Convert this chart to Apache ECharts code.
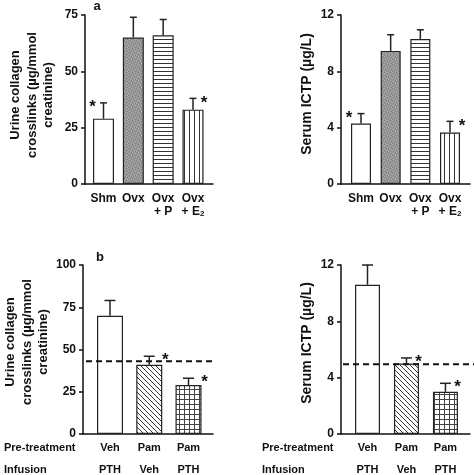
<!DOCTYPE html>
<html><head><meta charset="utf-8">
<script src="https://cdn.jsdelivr.net/npm/echarts@6/dist/echarts.min.js"></script>
<style>html,body{margin:0;padding:0;background:#fff}#c{width:474px;height:475px}</style>
</head><body><div id="c"></div>
<script>
// ---- data ----
const catsA = ['Shm', 'Ovx', 'Ovx\n+ P', 'Ovx\n+ E{sub|2}'];
const urineA = [29, 65, 66, 33];
const urineAErr = [36, 74, 73, 38];
const ictpA = [4.3, 9.45, 10.3, 3.65];
const ictpAErr = [5.0, 10.6, 10.95, 4.45];
const starsA = [-1, 0, 0, 1];
const starsA2 = [-1, 0, 0, 1];
const catsB = ['Veh\nPTH', 'Pam\nVeh', 'Pam\nPTH'];
const urineB = [70, 41, 29];
const urineBErr = [79, 46, 33];
const urineBRef = 43;
const ictpB = [10.6, 5.0, 3.0];
const ictpBErr = [12.0, 5.4, 3.6];
const ictpBRef = 4.95;
const starsB = [0, 1, 1];
const ticksUrineA = [0, 25, 50, 75];
const ticksIctp = [0, 4, 8, 12];
const ticksUrineB = [0, 25, 50, 75, 100];
const rowLabels = ['Pre-treatment', 'Infusion'];

// ---- patterns ----
function mk(w, h, draw) { const c = document.createElement('canvas'); c.width = w; c.height = h; const x = c.getContext('2d'); draw(x); return c; }
const pStipple = mk(6, 6, x => {
  x.fillStyle = '#979797'; x.fillRect(0, 0, 6, 6);
  x.fillStyle = '#7c7c7c';
  [[0,0],[3,1],[5,2],[1,3],[4,4],[2,5]].forEach(p => x.fillRect(p[0], p[1], 1, 1));
  x.fillStyle = '#b0b0b0';
  [[2,0],[0,2],[4,1],[3,3],[1,5],[5,4]].forEach(p => x.fillRect(p[0], p[1], 1, 1));
});
const pH = mk(4, 4, x => { x.fillStyle = '#fff'; x.fillRect(0, 0, 4, 4); x.fillStyle = '#333'; x.fillRect(0, 3, 4, 1); });
const pV = mk(5, 5, x => { x.fillStyle = '#fff'; x.fillRect(0, 0, 5, 5); x.fillStyle = '#333'; x.fillRect(4, 0, 1, 5); });
const pD = mk(5, 5, x => { x.fillStyle = '#fff'; x.fillRect(0, 0, 5, 5); x.fillStyle = '#333'; for (let i = 0; i < 5; i++) x.fillRect(i, i, 1, 1); });
const pG = mk(5, 5, x => { x.fillStyle = '#fff'; x.fillRect(0, 0, 5, 5); x.fillStyle = '#444'; x.fillRect(0, 4, 5, 1); x.fillRect(4, 0, 1, 5); });
const pat = c => ({ image: c, repeat: 'repeat' });
const fillsA = ['#fff', pat(pStipple), pat(pH), pat(pV)];
const fillsB = ['#fff', pat(pD), pat(pG)];

const FONT = 'Liberation Sans, Arial, sans-serif';
const grids = [
  { left: 85, top: 15, width: 128, height: 169, outerBoundsMode: 'none', containLabel: false },
  { left: 341, top: 15, width: 129, height: 169, outerBoundsMode: 'none', containLabel: false },
  { left: 83, top: 265, width: 130, height: 169, outerBoundsMode: 'none', containLabel: false },
  { left: 341, top: 265, width: 129, height: 169, outerBoundsMode: 'none', containLabel: false }
];
const xRanges = [[-0.62, 3.67], [-0.674, 3.674], [-0.688, 2.624], [-0.68, 2.63]];
const yRanges = [[0, 75, 25], [0, 12, 4], [0, 100, 25], [0, 12, 4]];
const catLists = [catsA, catsA, catsB, catsB];

const xAxes = grids.map((g, i) => ({
  type: 'value', gridIndex: i, min: xRanges[i][0], max: xRanges[i][1],
  axisLine: { show: true, onZero: false, lineStyle: { color: '#111', width: 1.5 } },
  axisTick: { show: false }, splitLine: { show: false },
  axisLabel: {
    customValues: catLists[i].map((c, k) => k),
    formatter: v => catLists[i][Math.round(v)],
    fontFamily: FONT, fontWeight: 'bold', fontSize: i < 2 ? 12 : 11, color: '#111',
    margin: i < 2 ? 8 : 3, lineHeight: i < 2 ? 13 : 22,
    rich: { sub: { fontSize: 8, fontWeight: 'bold', verticalAlign: 'bottom', padding: [6, 0, 0, 0], fontFamily: FONT } }
  }
}));
const yAxes = grids.map((g, i) => ({
  type: 'value', gridIndex: i, min: yRanges[i][0], max: yRanges[i][1], interval: yRanges[i][2],
  axisLine: { show: true, onZero: false, lineStyle: { color: '#111', width: 1.5 } },
  axisTick: { show: true, length: 4, lineStyle: { color: '#111', width: 1.5 } },
  splitLine: { show: false },
  axisLabel: { fontFamily: FONT, fontWeight: 'bold', fontSize: 12, color: '#111', margin: 7 }
}));

function barSeries(idx, vals, fills, bw) {
  return {
    type: 'bar', xAxisIndex: idx, yAxisIndex: idx, barWidth: bw, z: 2,
    data: vals.map((v, k) => ({ value: [k, v], itemStyle: { color: fills[k] } })),
    itemStyle: { borderColor: '#222', borderWidth: 1.2 },
    emphasis: { disabled: true }, silent: true
  };
}
function errSeries(idx, vals, errs, stars, cap, starOff) {
  return {
    type: 'custom', xAxisIndex: idx, yAxisIndex: idx, z: 3, silent: true,
    data: vals.map((v, k) => [k, errs[k], v, stars[k]]),
    renderItem: (params, api) => {
      const k = api.value(0), top = api.value(1), base = api.value(2), s = api.value(3);
      const p0 = api.coord([k, base]), p1 = api.coord([k, top]);
      const ch = [
        { type: 'line', shape: { x1: p0[0], y1: p0[1], x2: p1[0], y2: p1[1] }, style: { stroke: '#222', lineWidth: 1.5 } },
        { type: 'line', shape: { x1: p1[0] - cap / 2, y1: p1[1], x2: p1[0] + cap / 2, y2: p1[1] }, style: { stroke: '#222', lineWidth: 1.5 } }
      ];
      if (s !== 0) {
        ch.push({ type: 'text', x: p1[0] + s * starOff, y: p1[1] - 4,
          style: { text: '*', font: 'bold 17px ' + FONT, fill: '#111', align: 'center', verticalAlign: 'top' } });
      }
      return { type: 'group', children: ch };
    }
  };
}
function refSeries(idx, ref, ext0, ext1) {
  return {
    type: 'custom', xAxisIndex: idx, yAxisIndex: idx, z: 4, silent: true,
    data: [[0, ref]],
    renderItem: (params, api) => {
      const cs = params.coordSys;
      const y = api.coord([0, api.value(1)])[1];
      return { type: 'line', shape: { x1: cs.x + ext0, y1: y, x2: cs.x + cs.width + ext1, y2: y },
        style: { stroke: '#111', lineWidth: 2, lineDash: [6, 4] } };
    }
  };
}

const titleStyle = { font: 'bold 13px ' + FONT, fill: '#111', align: 'center', verticalAlign: 'middle', lineHeight: 16.5 };
const titleStyle2 = { font: 'bold 14px ' + FONT, fill: '#111', align: 'center', verticalAlign: 'middle' };
const graphics = [
  { type: 'text', x: 32, y: 95, rotation: Math.PI / 2, style: Object.assign({ text: 'Urine collagen\ncrosslinks (\u00b5g/mmol\ncreatinine)' }, titleStyle) },
  { type: 'text', x: 307, y: 94, rotation: Math.PI / 2, style: Object.assign({ text: 'Serum ICTP (\u00b5g/L)' }, titleStyle2) },
  { type: 'text', x: 27, y: 342, rotation: Math.PI / 2, style: Object.assign({ text: 'Urine collagen\ncrosslinks (\u00b5g/mmol\ncreatinine)' }, titleStyle) },
  { type: 'text', x: 307, y: 343, rotation: Math.PI / 2, style: Object.assign({ text: 'Serum ICTP (\u00b5g/L)' }, titleStyle2) },
  { type: 'text', x: 97, y: 6, style: { text: 'a', font: 'bold 13px ' + FONT, fill: '#111', align: 'center', verticalAlign: 'middle' } },
  { type: 'text', x: 100, y: 257, style: { text: 'b', font: 'bold 13px ' + FONT, fill: '#111', align: 'center', verticalAlign: 'middle' } },
  { type: 'text', x: 4, y: 448, style: { text: rowLabels[0], font: 'bold 11px ' + FONT, fill: '#111', align: 'left', verticalAlign: 'middle' } },
  { type: 'text', x: 4, y: 470, style: { text: rowLabels[1], font: 'bold 11px ' + FONT, fill: '#111', align: 'left', verticalAlign: 'middle' } },
  { type: 'text', x: 262, y: 448, style: { text: rowLabels[0], font: 'bold 11px ' + FONT, fill: '#111', align: 'left', verticalAlign: 'middle' } },
  { type: 'text', x: 262, y: 470, style: { text: rowLabels[1], font: 'bold 11px ' + FONT, fill: '#111', align: 'left', verticalAlign: 'middle' } }
];

const chart = echarts.init(document.getElementById('c'), null, { renderer: 'canvas' });
chart.setOption({
  animation: false,
  backgroundColor: '#fff',
  grid: grids,
  xAxis: xAxes,
  yAxis: yAxes,
  series: [
    barSeries(0, urineA, fillsA, 21), errSeries(0, urineA, urineAErr, starsA, 7, 11),
    barSeries(1, ictpA, fillsA, 20), errSeries(1, ictpA, ictpAErr, starsA2, 7, 12),
    barSeries(2, urineB, fillsB, 26), errSeries(2, urineB, urineBErr, starsB, 11, 16), refSeries(2, urineBRef, 3, 0),
    barSeries(3, ictpB, fillsB, 25), errSeries(3, ictpB, ictpBErr, starsB, 11, 12), refSeries(3, ictpBRef, 2, 4)
  ],
  graphic: graphics
});
</script></body></html>
